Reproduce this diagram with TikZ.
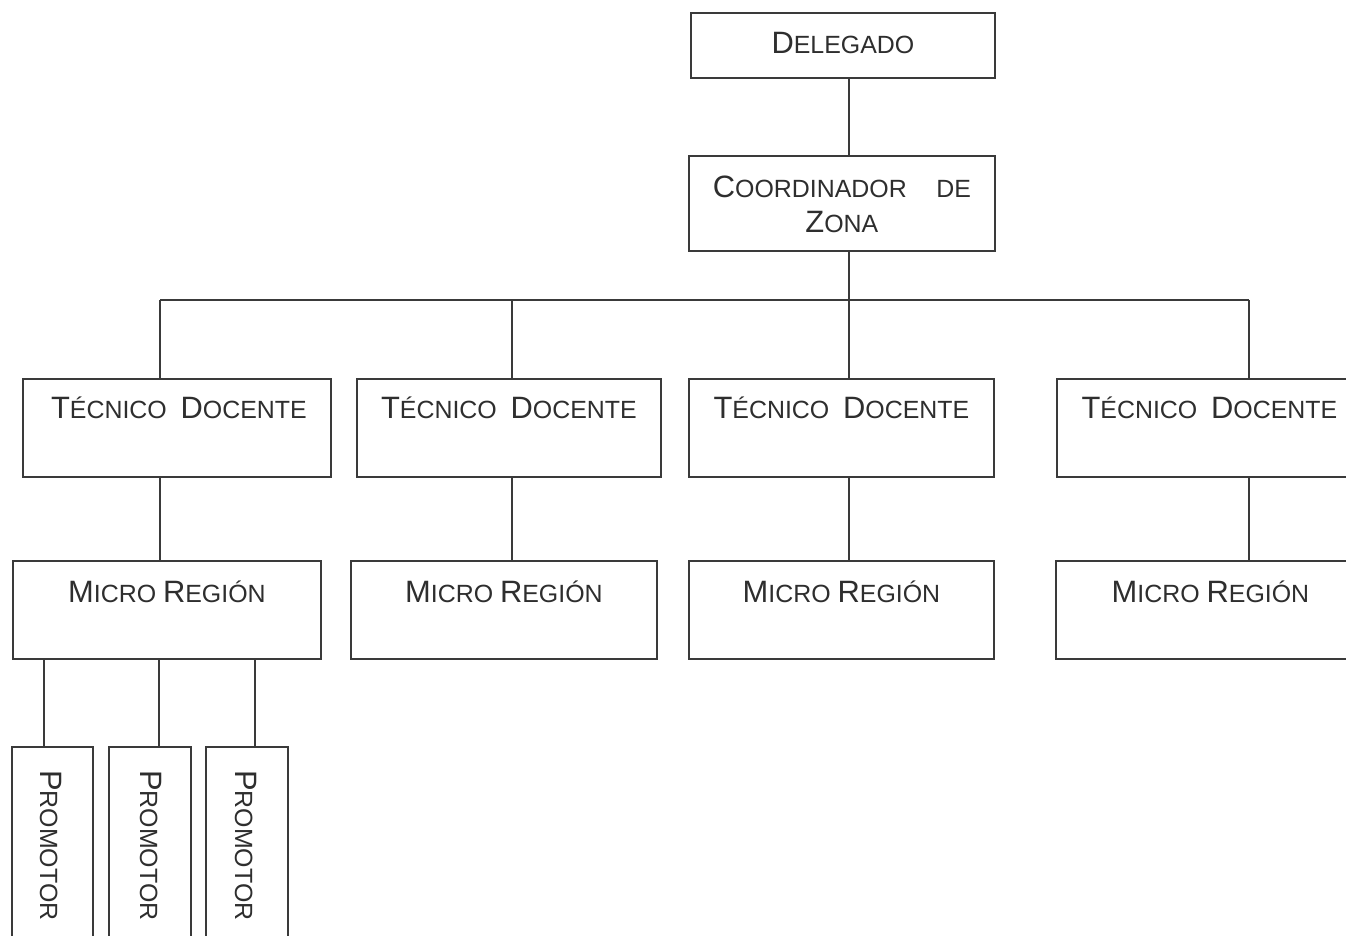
\documentclass[tikz,border=0pt]{standalone}
\usepackage{fontspec}
\setmainfont{Liberation Sans}
\definecolor{ink}{HTML}{3A3A3A}
\definecolor{txt}{HTML}{2E2E2E}
\newcommand\SC[2]{{\fontsize{31}{36}\selectfont #1}{\fontsize{25}{36}\selectfont #2}}
\begin{document}
\begin{tikzpicture}[x=1bp,y=-1bp,
  box/.style={draw=ink, line width=1.8bp, rectangle, inner sep=0pt, anchor=north west},
  lbl/.style={text=txt, inner sep=0pt, anchor=base, font=\fontsize{25}{36}\selectfont},
  conn/.style={draw=ink, line width=1.6bp}]
\useasboundingbox[fill=white] (0,0) rectangle (1346,935);

% top
\node[box, minimum width=304bp, minimum height=65bp,
  label={[lbl, yshift=-41bp]north:\SC{D}{ELEGADO}}] (del) at (690,12) {};
\node[box, minimum width=306bp, minimum height=95bp,
  label={[lbl, yshift=-42bp, text width=258bp, align=center]north:\SC{C}{OORDINADOR}\hfill\SC{}{DE}\\\SC{Z}{ONA}}] (coo) at (688,155) {};

% tecnico docente
\node[box, minimum width=308bp, minimum height=98bp,
  label={[lbl, yshift=-40bp, xshift=2bp]north:\SC{T}{ÉCNICO}\ \ \SC{D}{OCENTE}}] (t1) at (22,378) {};
\node[box, minimum width=304bp, minimum height=98bp,
  label={[lbl, yshift=-40bp]north:\SC{T}{ÉCNICO}\ \ \SC{D}{OCENTE}}] (t2) at (356,378) {};
\node[box, minimum width=305bp, minimum height=98bp,
  label={[lbl, yshift=-40bp]north:\SC{T}{ÉCNICO}\ \ \SC{D}{OCENTE}}] (t3) at (688,378) {};
\node[box, minimum width=305bp, minimum height=98bp,
  label={[lbl, yshift=-40bp]north:\SC{T}{ÉCNICO}\ \ \SC{D}{OCENTE}}] (t4) at (1056,378) {};

% micro region
\node[box, minimum width=308bp, minimum height=98bp,
  label={[lbl, yshift=-42bp]north:\SC{M}{ICRO} \SC{R}{EGIÓN}}] (m1) at (12,560) {};
\node[box, minimum width=306bp, minimum height=98bp,
  label={[lbl, yshift=-42bp]north:\SC{M}{ICRO} \SC{R}{EGIÓN}}] (m2) at (350,560) {};
\node[box, minimum width=305bp, minimum height=98bp,
  label={[lbl, yshift=-42bp]north:\SC{M}{ICRO} \SC{R}{EGIÓN}}] (m3) at (688,560) {};
\node[box, minimum width=305bp, minimum height=98bp,
  label={[lbl, yshift=-42bp, xshift=2bp]north:\SC{M}{ICRO} \SC{R}{EGIÓN}}] (m4) at (1055,560) {};

% promotores
\node[box, minimum width=81bp, minimum height=260bp,
  label={[lbl, rotate=-90, anchor=base west, xshift=24bp, yshift=29bp]north west:\SC{P}{ROMOTOR}}] (p1) at (11,746) {};
\node[box, minimum width=82bp, minimum height=260bp,
  label={[lbl, rotate=-90, anchor=base west, xshift=24bp, yshift=32bp]north west:\SC{P}{ROMOTOR}}] (p2) at (108,746) {};
\node[box, minimum width=82bp, minimum height=260bp,
  label={[lbl, rotate=-90, anchor=base west, xshift=24bp, yshift=30bp]north west:\SC{P}{ROMOTOR}}] (p3) at (205,746) {};

% connectors
\coordinate (b1) at (160,300);
\coordinate (b2) at (512,300);
\coordinate (b3) at (849,300);
\coordinate (b4) at (1249,300);
\draw[conn] (del.south -| b3) -- (coo.north -| b3);
\draw[conn] (coo.south -| b3) -- (b3);
\draw[conn] (b1) -- (b4);
\foreach \i in {1,2,3,4}{
  \draw[conn] (b\i) -- (t\i.north -| b\i);
  \draw[conn] (t\i.south -| b\i) -- (m\i.north -| b\i);
}
\coordinate (q1) at (44,700);
\coordinate (q2) at (159,700);
\coordinate (q3) at (255,700);
\foreach \i in {1,2,3}{
  \draw[conn] (m1.south -| q\i) -- (p\i.north -| q\i);
}
\end{tikzpicture}
\end{document}
